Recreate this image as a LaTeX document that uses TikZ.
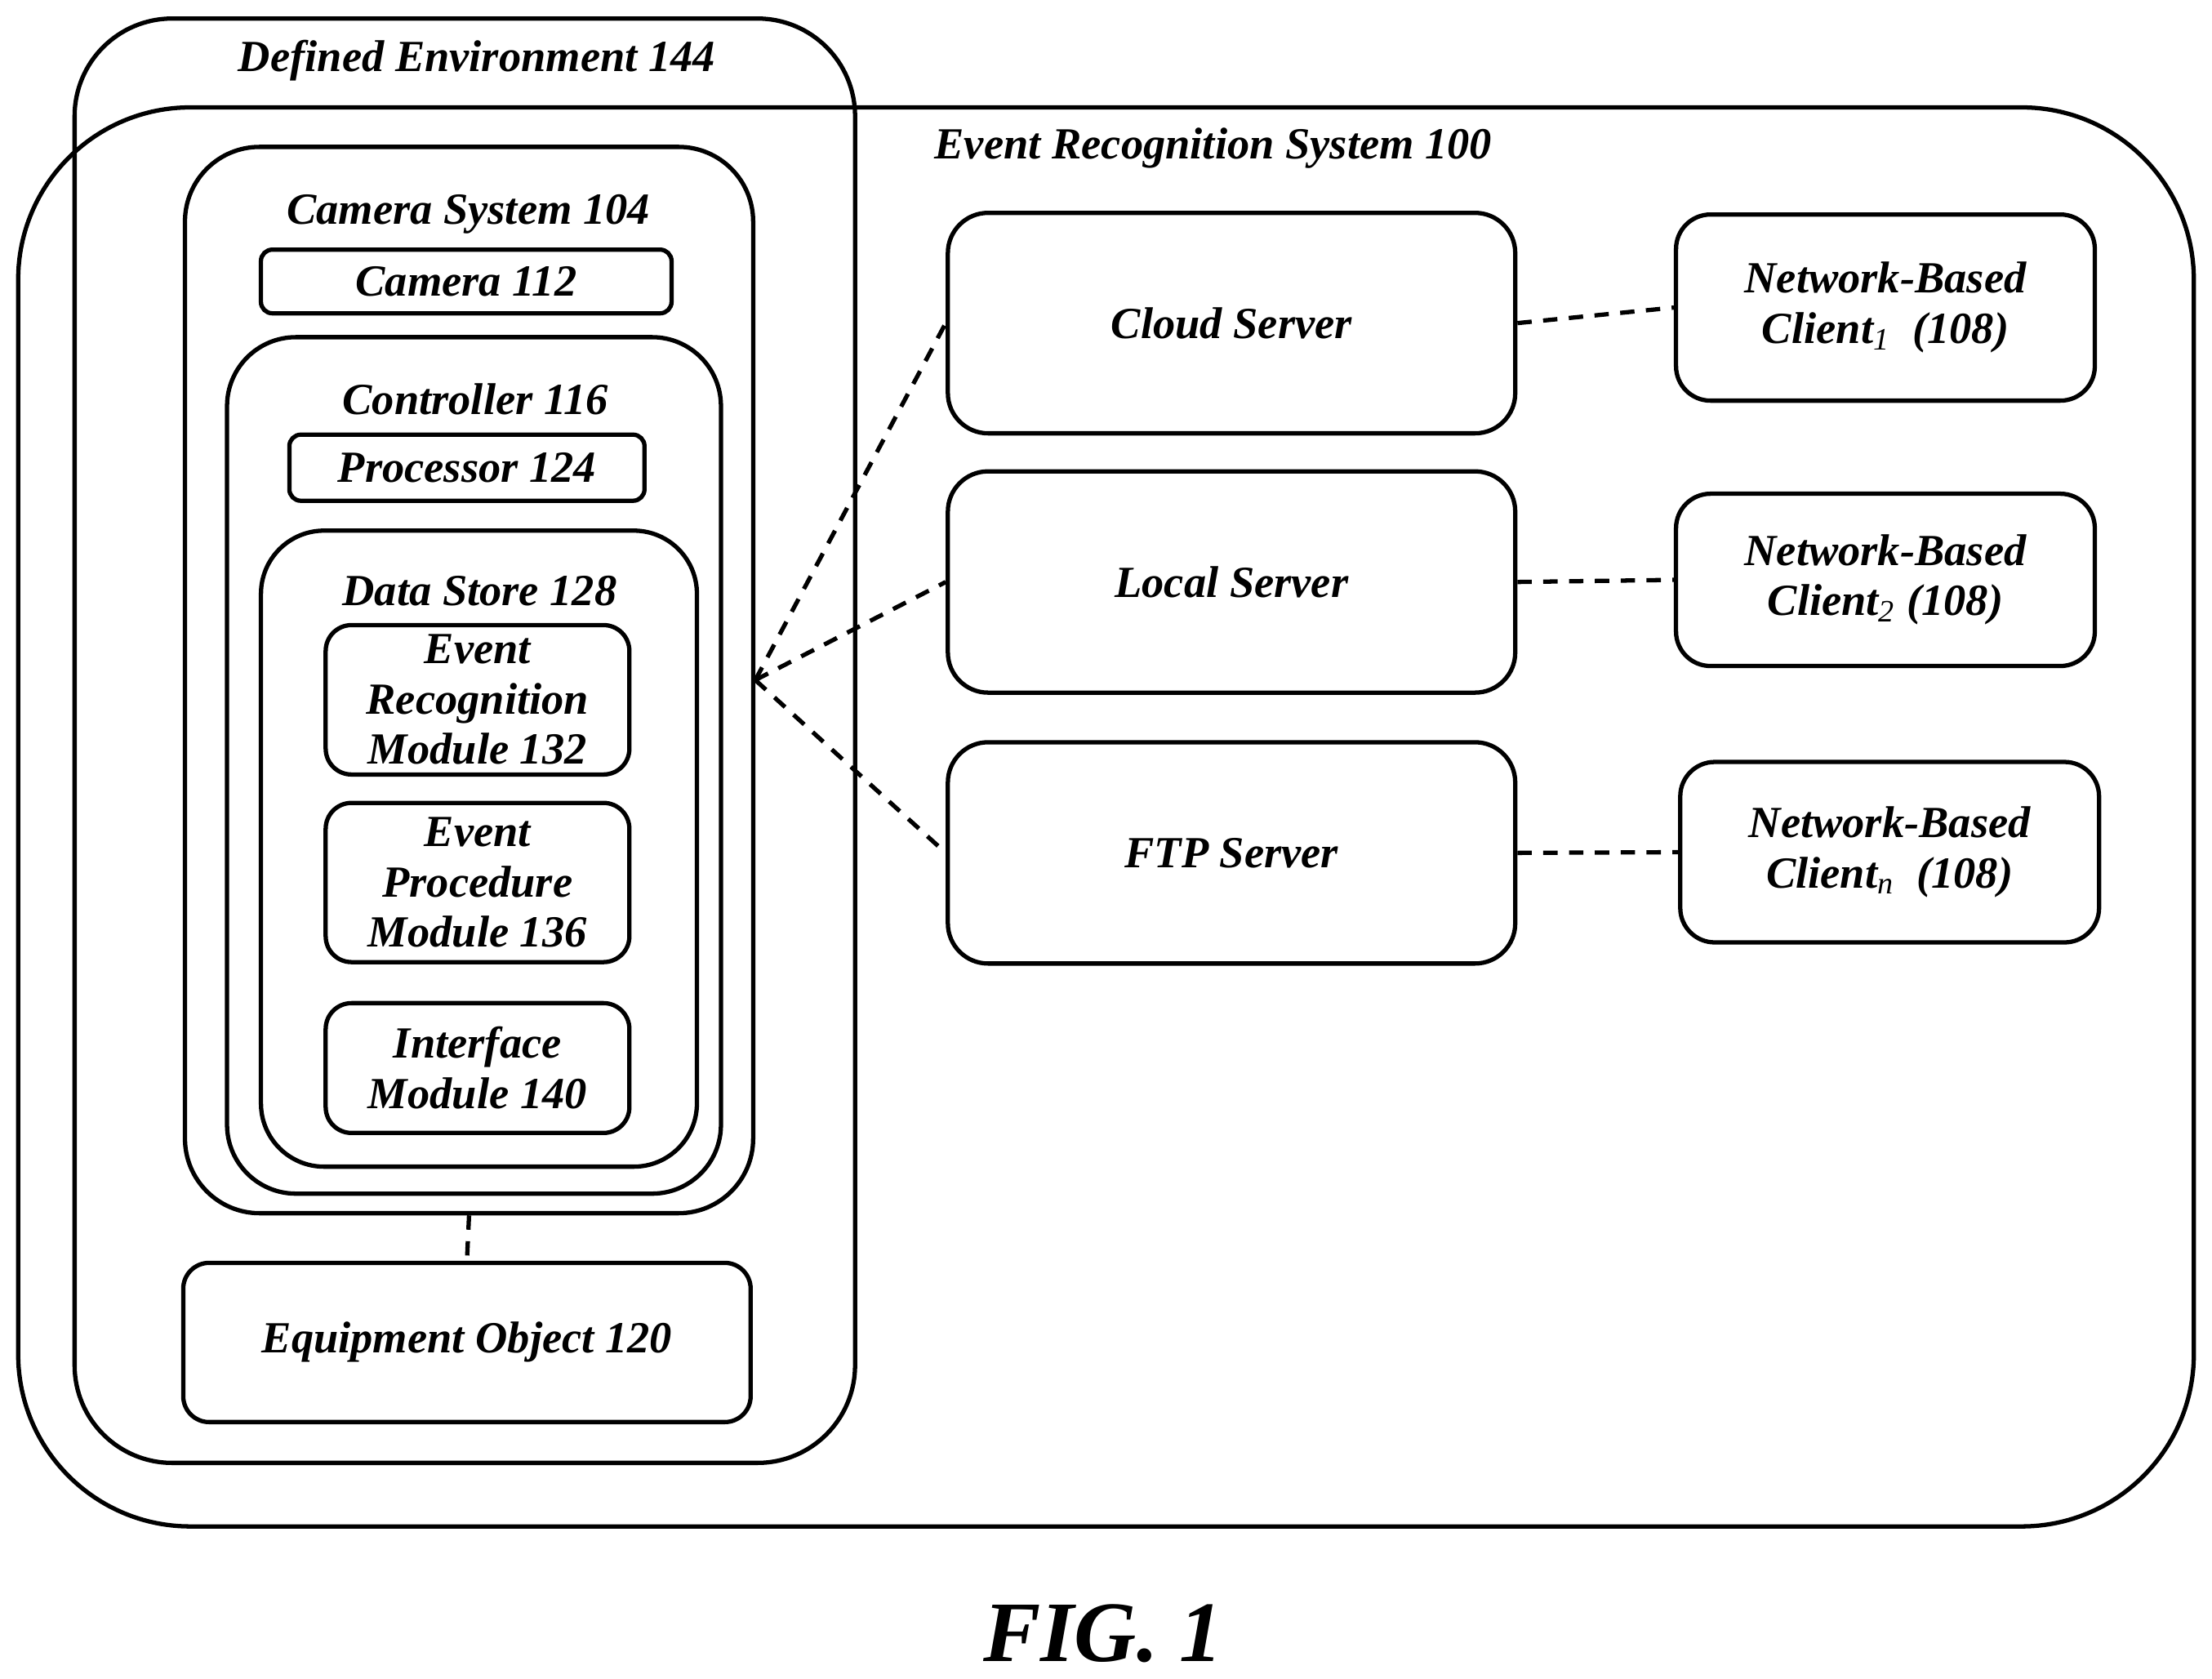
\documentclass[tikz,border=0pt]{standalone}
\usepackage{fontspec}
\setmainfont{Liberation Serif}
\usetikzlibrary{positioning}
\begin{document}
\begin{tikzpicture}[
    x=0.1728mm, y=-0.1728mm,
    box/.style={rectangle, draw, line width=1.5pt, rounded corners=9pt, inner sep=0pt,
                align=center, font=\fontsize{15.5}{17.5}\selectfont\bfseries\itshape},
    lbl/.style={inner sep=0pt, font=\fontsize{15.5}{17.5}\selectfont\bfseries\itshape},
    link/.style={line width=1.5pt, dashed, dash pattern=on 5pt off 4pt}
]
\useasboundingbox (0,0) rectangle (1568,1190);

% Outer frames
\node[box, rounded corners=60pt, minimum width=266.5mm, minimum height=173.8mm] (ers) at (784,579) {};
\node[box, rounded corners=34pt, minimum width=95.6mm, minimum height=176.9mm] (env) at (329.5,525) {};
\node[lbl] at (338,43) {Defined Environment 144};
\node[lbl] at (860,105) {Event Recognition System 100};

% Camera system
\node[box, rounded corners=26pt, minimum width=69.6mm, minimum height=130.6mm] (camsys) at (332.5,482) {};
\node[lbl] at (332,152) {Camera System 104};
\node[box, rounded corners=4pt, minimum width=50.3mm, minimum height=7.8mm] (cam) at (330.5,199.5) {Camera 112};
\node[box, rounded corners=24pt, minimum width=60.5mm, minimum height=104.9mm] (ctrl) at (336,542.5) {};
\node[lbl] at (337,283) {Controller 116};
\node[box, rounded corners=4pt, minimum width=43.5mm, minimum height=8.1mm] (proc) at (331,331.5) {Processor 124};
\node[box, rounded corners=22pt, minimum width=53.4mm, minimum height=77.9mm] (store) at (339.5,601.5) {};
\node[lbl] at (340,419) {Data Store 128};
\node[box, minimum width=37.2mm, minimum height=18.3mm] (erm) at (338.5,496) {Event\\Recognition\\Module 132};
\node[box, minimum width=37.2mm, minimum height=19.5mm] (epm) at (338.5,625.5) {Event\\Procedure\\Module 136};
\node[box, minimum width=37.2mm, minimum height=15.9mm] (ifm) at (338.5,757) {Interface\\Module 140};
\node[box, minimum width=69.5mm, minimum height=19.5mm] (equip) at (331,951.5) {Equipment Object 120};

% Servers
\node[box, rounded corners=14pt, minimum width=69.5mm, minimum height=27mm] (cloud) at (873,229) {Cloud Server};
\node[box, rounded corners=14pt, minimum width=69.5mm, minimum height=27.1mm] (local) at (873,412.5) {Local Server};
\node[box, rounded corners=14pt, minimum width=69.5mm, minimum height=27.1mm] (ftp) at (873,604.5) {FTP Server};

% Clients
\node[box, rounded corners=12pt, minimum width=51.3mm, minimum height=22.8mm] (cl1) at (1336.5,218) {Network-Based\\Client$_{\mathit{1}}$\ \ (108)};
\node[box, rounded corners=12pt, minimum width=51.3mm, minimum height=21.1mm] (cl2) at (1336.5,411) {Network-Based\\Client$_{\mathit{2}}$ (108)};
\node[box, rounded corners=12pt, minimum width=51.3mm, minimum height=22.1mm] (cln) at (1339.5,604) {Network-Based\\Client$_{\mathit{n}}$\ \ (108)};

\node[inner sep=0pt, font=\fontsize{30}{36}\selectfont\bfseries\itshape] (fig) at (782,1158) {FIG. 1};

% Links
\draw[link] (camsys.east) -- (cloud.west);
\draw[link] (camsys.east) -- (local.west);
\draw[link] (camsys.east) -- (ftp.west);
\draw[link] (cloud.east) -- (cl1.west);
\draw[link] (local.east) -- (cl2.west);
\draw[link] (ftp.east) -- (cln.west);
\draw[link] (camsys.south) -- (equip.north);
\end{tikzpicture}
\end{document}
